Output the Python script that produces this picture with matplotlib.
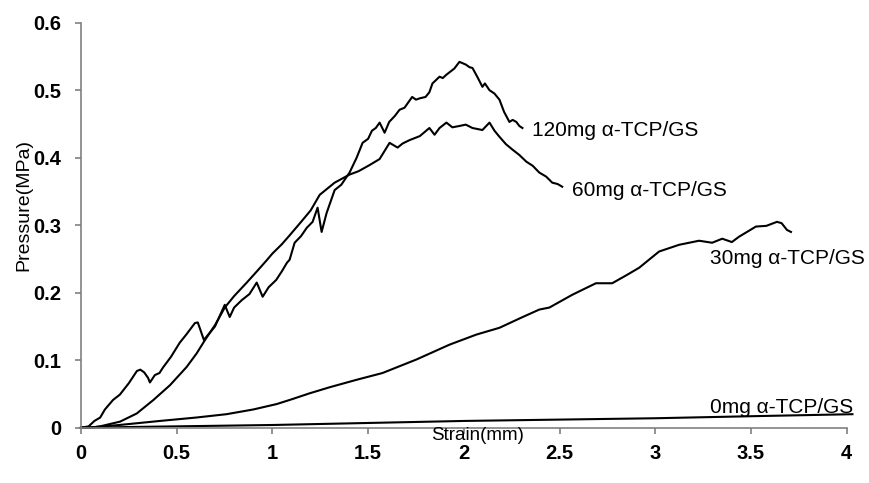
"""Compressive pressure vs strain curves for alpha-TCP/GS scaffolds."""

import matplotlib

matplotlib.use("Agg")
import matplotlib.pyplot as plt

plt.rcParams["font.family"] = ["Liberation Sans", "DejaVu Sans"]

# curves (strain in mm, pressure in MPa)
x_120 = [0, 0.04, 0.07, 0.10, 0.125, 0.167, 0.203, 0.25, 0.292, 0.31, 0.33,
         0.35, 0.36, 0.386, 0.41, 0.428, 0.47, 0.516, 0.55, 0.595, 0.61, 0.62,
         0.642, 0.70, 0.751, 0.777, 0.80, 0.84, 0.88, 0.918, 0.949, 0.98, 1.02,
         1.05, 1.075, 1.09, 1.116, 1.15, 1.179, 1.21, 1.236, 1.257, 1.283, 1.325,
         1.36, 1.403, 1.44, 1.471, 1.50, 1.52, 1.54, 1.56, 1.586, 1.61, 1.64,
         1.664, 1.69, 1.70, 1.73, 1.75, 1.77, 1.80, 1.82, 1.836, 1.873, 1.89,
         1.909, 1.95, 1.977, 2.01, 2.03, 2.045, 2.07, 2.097, 2.11, 2.134, 2.16,
         2.186, 2.21, 2.238, 2.255, 2.274, 2.29, 2.306]
y_120 = [0, 0.002, 0.010, 0.015, 0.027, 0.041, 0.049, 0.066, 0.084, 0.086, 0.082,
         0.074, 0.067, 0.078, 0.081, 0.089, 0.105, 0.126, 0.138, 0.155, 0.156, 0.148,
         0.130, 0.150, 0.182, 0.164, 0.178, 0.189, 0.198, 0.215, 0.194, 0.208, 0.219,
         0.232, 0.244, 0.249, 0.274, 0.284, 0.296, 0.305, 0.326, 0.290, 0.318, 0.352,
         0.360, 0.378, 0.400, 0.422, 0.428, 0.440, 0.444, 0.452, 0.437, 0.453, 0.462,
         0.471, 0.474, 0.478, 0.490, 0.486, 0.488, 0.490, 0.497, 0.510, 0.520, 0.518,
         0.523, 0.532, 0.542, 0.538, 0.534, 0.533, 0.520, 0.505, 0.510, 0.500, 0.495,
         0.486, 0.468, 0.453, 0.456, 0.453, 0.447, 0.444]

x_60 = [0, 0.05, 0.10, 0.204, 0.291, 0.378, 0.465, 0.552, 0.604, 0.648, 0.70,
        0.751, 0.80, 0.866, 0.92, 0.97, 1.0, 1.05, 1.09, 1.15, 1.20, 1.247, 1.325,
        1.403, 1.45, 1.507, 1.56, 1.612, 1.654, 1.68, 1.716, 1.77, 1.82, 1.847,
        1.873, 1.909, 1.94, 1.977, 2.01, 2.045, 2.097, 2.134, 2.16, 2.186, 2.22,
        2.254, 2.29, 2.327, 2.36, 2.394, 2.43, 2.462, 2.49, 2.514]
y_60 = [0, 0.0, 0.002, 0.009, 0.021, 0.041, 0.063, 0.090, 0.110, 0.130, 0.152,
        0.178, 0.195, 0.215, 0.232, 0.248, 0.258, 0.272, 0.285, 0.305, 0.322, 0.345,
        0.363, 0.375, 0.380, 0.389, 0.398, 0.422, 0.415, 0.421, 0.426, 0.432, 0.444,
        0.434, 0.444, 0.452, 0.445, 0.447, 0.449, 0.444, 0.441, 0.452, 0.440, 0.431,
        0.420, 0.412, 0.404, 0.394, 0.388, 0.378, 0.372, 0.363, 0.361, 0.357]

x_30 = [0, 0.03, 0.20, 0.412, 0.60, 0.76, 0.90, 1.022, 1.10, 1.195, 1.30, 1.44,
        1.575, 1.752, 1.925, 2.066, 2.186, 2.30, 2.394, 2.447, 2.567, 2.69, 2.775,
        2.85, 2.916, 3.02, 3.125, 3.229, 3.297, 3.35, 3.40, 3.438, 3.526, 3.58,
        3.636, 3.66, 3.688, 3.709]
y_30 = [0, 0, 0.004, 0.010, 0.015, 0.020, 0.027, 0.035, 0.042, 0.051, 0.060, 0.071,
        0.081, 0.101, 0.123, 0.138, 0.148, 0.163, 0.175, 0.178, 0.197, 0.214, 0.214,
        0.226, 0.237, 0.261, 0.271, 0.277, 0.274, 0.280, 0.275, 0.283, 0.298, 0.299,
        0.305, 0.303, 0.293, 0.290]

x_0 = [0, 0.5, 1.0, 1.5, 2.0, 2.5, 3.0, 3.5, 4.03]
y_0 = [0, 0.002, 0.004, 0.007, 0.010, 0.012, 0.014, 0.017, 0.020]

curves = [
    (x_120, y_120, "120mg α-TCP/GS", (2.356, 0.441)),
    (x_60, y_60, "60mg α-TCP/GS", (2.565, 0.352)),
    (x_30, y_30, "30mg α-TCP/GS", (3.286, 0.251)),
    (x_0, y_0, "0mg α-TCP/GS", (3.286, 0.030)),
]

fig = plt.figure(figsize=(8.7, 4.83), dpi=100)
ax = fig.add_axes([0.0931, 0.1145, 0.8801, 0.8385])

for xs, ys, label, (tx, ty) in curves:
    ax.plot(xs, ys, color="black", linewidth=1.5, clip_on=False)
    ax.text(tx, ty, label, fontsize=15, ha="left", va="center")

ax.set_xlim(0, 4)
ax.set_ylim(0, 0.6)
ax.set_xticks([0, 0.5, 1, 1.5, 2, 2.5, 3, 3.5, 4])
ax.set_xticklabels(["0", "0.5", "1", "1.5", "2", "2.5", "3", "3.5", "4"])
ax.set_yticks([0, 0.1, 0.2, 0.3, 0.4, 0.5, 0.6])
ax.set_yticklabels(["0", "0.1", "0.2", "0.3", "0.4", "0.5", "0.6"])

for side in ("top", "right"):
    ax.spines[side].set_visible(False)
for side in ("left", "bottom"):
    ax.spines[side].set_color("#808080")
    ax.spines[side].set_linewidth(1.2)
ax.tick_params(axis="both", direction="out", length=4, width=1.2,
               color="#808080", labelsize=14.5)
ax.tick_params(axis="x", pad=8)
ax.tick_params(axis="y", pad=10)
for lab in ax.get_xticklabels() + ax.get_yticklabels():
    lab.set_fontweight("bold")

fig.text(478 / 870, 1 - 436 / 483, "Strain(mm)", fontsize=13.5,
         ha="center", va="center")
fig.text(24 / 870, 1 - 205 / 483, "Pressure(MPa)", fontsize=14,
         ha="center", va="center", rotation=90)

fig.savefig("out.png", dpi=100)
